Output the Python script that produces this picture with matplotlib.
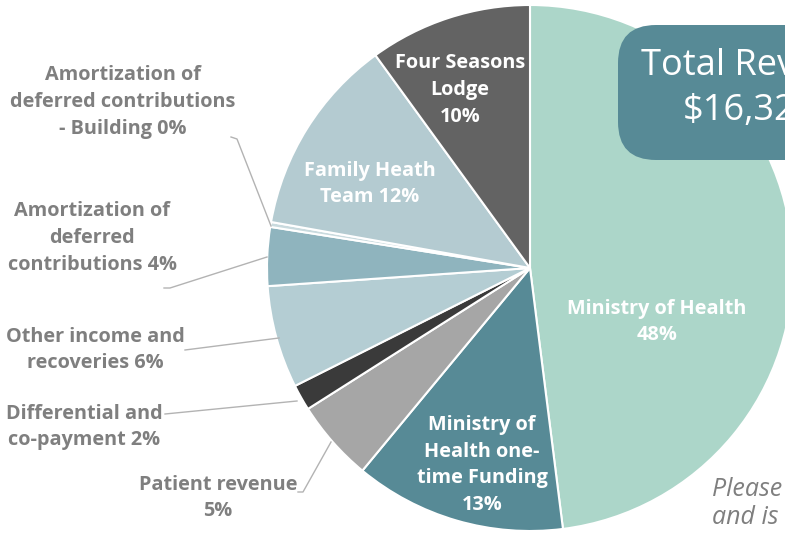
import numpy as np
import matplotlib.pyplot as plt
from matplotlib.patches import FancyBboxPatch

plt.rcParams['font.family'] = ['Open Sans', 'DejaVu Sans']

# revenue shares, clockwise from 12 o'clock
categories = ['Ministry of Health', 'Ministry of Health one-time Funding',
              'Patient revenue', 'Differential and co-payment',
              'Other income and recoveries',
              'Amortization of deferred contributions',
              'Amortization of deferred contributions - Building',
              'Family Heath Team', 'Four Seasons Lodge']
shares = [48.0, 13.0, 5.0, 1.6, 6.3, 3.6, 0.3, 12.2, 10.0]
pct_text = ['48%', '13%', '5%', '2%', '6%', '4%', '0%', '12%', '10%']
label_text = ['Ministry of Health\n48%',
              'Ministry of\nHealth one-\ntime Funding\n13%',
              'Patient revenue\n5%',
              'Differential and\nco-payment 2%',
              'Other income and\nrecoveries 6%',
              'Amortization of\ndeferred\ncontributions 4%',
              'Amortization of\ndeferred contributions\n- Building 0%',
              'Family Heath\nTeam 12%',
              'Four Seasons\nLodge\n10%']
colors = ['#acd6c9', '#578a96', '#a6a6a6', '#3a3a3a', '#b4cdd3',
          '#8fb4be', '#c9dade', '#b4cbd1', '#636363']
inside = [True, True, False, False, False, False, False, True, True]

# label anchor (pixel, center of text block)
label_pos = [(657, 322), (482, 465), (218, 498), (84, 427), (95, 350),
             (92, 238), (123, 102), (370, 184), (460, 90)]
# leader lines in pixels (for outside labels)
leaders = {2: [(298, 492), (303, 492), (331, 442)],
           3: [(165, 414), (297, 401)],
           4: [(185, 350), (279, 338)],
           5: [(164, 288), (170, 288), (267, 257)],
           6: [(231, 137), (237, 139), (271, 226)]}

W, H = 785, 535
cx, cy, r = 530, 268, 263


def px(x, y):
    return (x - cx) / r, (cy - y) / r


fig = plt.figure(figsize=(W / 100, H / 100), dpi=100)
ax = fig.add_axes([0, 0, 1, 1])
ax.pie(shares, colors=colors, startangle=90, counterclock=False, radius=1,
       wedgeprops=dict(edgecolor='white', linewidth=1.5))
ax.set_xlim(-cx / r, (W - cx) / r)
ax.set_ylim((cy - H) / r, cy / r)
ax.set_aspect('equal')
ax.axis('off')

for i, txt in enumerate(label_text):
    x, y = px(*label_pos[i])
    ax.text(x, y, txt, ha='center', va='center', fontsize=14.3,
            fontweight='bold', color='white' if inside[i] else '#7f7f7f',
            linespacing=1.46)

for i, pts in leaders.items():
    xs, ys = zip(*[px(*p) for p in pts])
    ax.plot(xs, ys, color='#b3b3b3', lw=1.0)

# total revenue box (cut off at right edge, as in the source slide)
bx0, by0 = px(618, 160)
bx1, by1 = px(960, 25)
box = FancyBboxPatch((bx0, by0), bx1 - bx0, by1 - by0,
                     boxstyle='round,pad=0,rounding_size=%f' % (38 / r),
                     facecolor='#578a96', edgecolor='none')
ax.add_patch(box)
ax.text(*px(641, 66), 'Total Revenue', ha='left', va='center',
        fontsize=26, color='white')
ax.text(*px(683, 111), '$16,325,000', ha='left', va='center',
        fontsize=26, color='white')

ax.text(*px(712, 489), 'Please note', ha='left', va='center',
        fontsize=18, style='italic', color='#7f7f7f')
ax.text(*px(712, 517), 'and is subject', ha='left', va='center',
        fontsize=18, style='italic', color='#7f7f7f')

fig.savefig('out.png', dpi=100)
